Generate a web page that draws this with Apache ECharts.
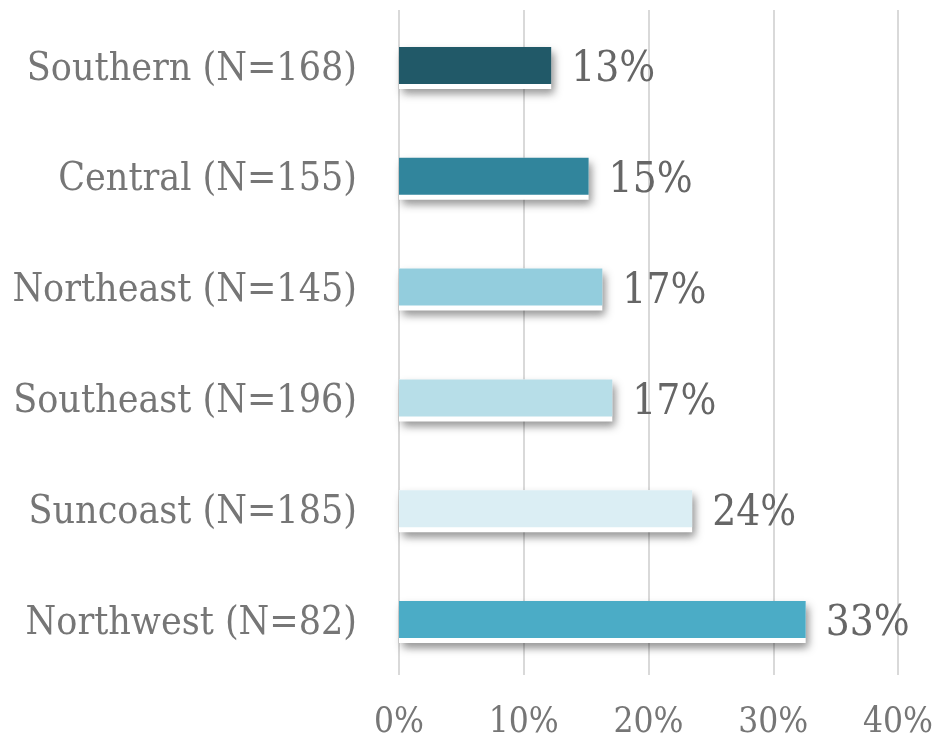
<!DOCTYPE html>
<html lang="en">
<head>
<meta charset="utf-8">
<title>Regions</title>
<style>
  html, body { margin: 0; padding: 0; background: #fff; }
  #main { width: 940px; height: 740px; }
</style>
<script src="https://cdn.jsdelivr.net/npm/echarts@6/dist/echarts.min.js"></script>
</head>
<body>
<div id="main"></div>
<script>
// categories top to bottom
var regions = ['Southern (N=168)', 'Central (N=155)', 'Northeast (N=145)', 'Southeast (N=196)', 'Suncoast (N=185)', 'Northwest (N=82)'];
// bar lengths (percent)
var shares = [12.2, 15.2, 16.3, 17.1, 23.5, 32.6];
// labels as printed
var shareLabels = ['13%', '15%', '17%', '17%', '24%', '33%'];
var barColors = ['#215968', '#31859C', '#93CDDD', '#B7DEE8', '#DBEEF4', '#4BACC6'];
var xTicks = [0, 10, 20, 30, 40];

var fontFam = '"DejaVu Serif Condensed", "Liberation Serif", serif';
var myChart = echarts.init(document.getElementById('main'));

var option = {
  animation: false,
  grid: { left: 399, right: 42, top: 10, bottom: 64 },
  xAxis: {
    type: 'value',
    min: xTicks[0],
    max: xTicks[xTicks.length - 1],
    interval: 10,
    axisLine: { show: false },
    axisTick: { show: false },
    splitLine: { lineStyle: { color: '#d9d9d9', width: 2 } },
    axisLabel: {
      formatter: '{value}%',
      color: '#767676',
      fontFamily: fontFam,
      fontSize: 35,
      margin: 30
    }
  },
  yAxis: {
    type: 'category',
    inverse: true,
    data: regions,
    axisLine: { show: false },
    axisTick: { show: false },
    axisLabel: {
      margin: 42,
      formatter: function (v) { return '{c|' + v + '}'; },
      rich: {
        c: {
          color: '#767676',
          fontFamily: fontFam,
          fontSize: 39,
          padding: [8, 0, 0, 0]
        }
      }
    }
  },
  series: [{
    // white backing plate with drop shadow
    type: 'bar',
    barWidth: 42,
    silent: true,
    data: shares,
    itemStyle: {
      color: '#fff',
      borderColor: '#fff',
      borderWidth: 7,
      shadowColor: 'rgba(0,0,0,0.35)',
      shadowBlur: 9,
      shadowOffsetX: 3,
      shadowOffsetY: 5
    },
    z: 2
  }, {
    type: 'bar',
    barWidth: 37,
    barGap: '-100%',
    data: shares.map(function (v, i) {
      return { value: v, itemStyle: { color: barColors[i] } };
    }),
    label: {
      show: true,
      position: 'right',
      distance: 20,
      offset: [0, 5],
      color: '#666',
      fontFamily: fontFam,
      fontSize: 42,
      formatter: function (p) { return shareLabels[p.dataIndex]; }
    },
    z: 3
  }]
};
myChart.setOption(option);
</script>
</body>
</html>
